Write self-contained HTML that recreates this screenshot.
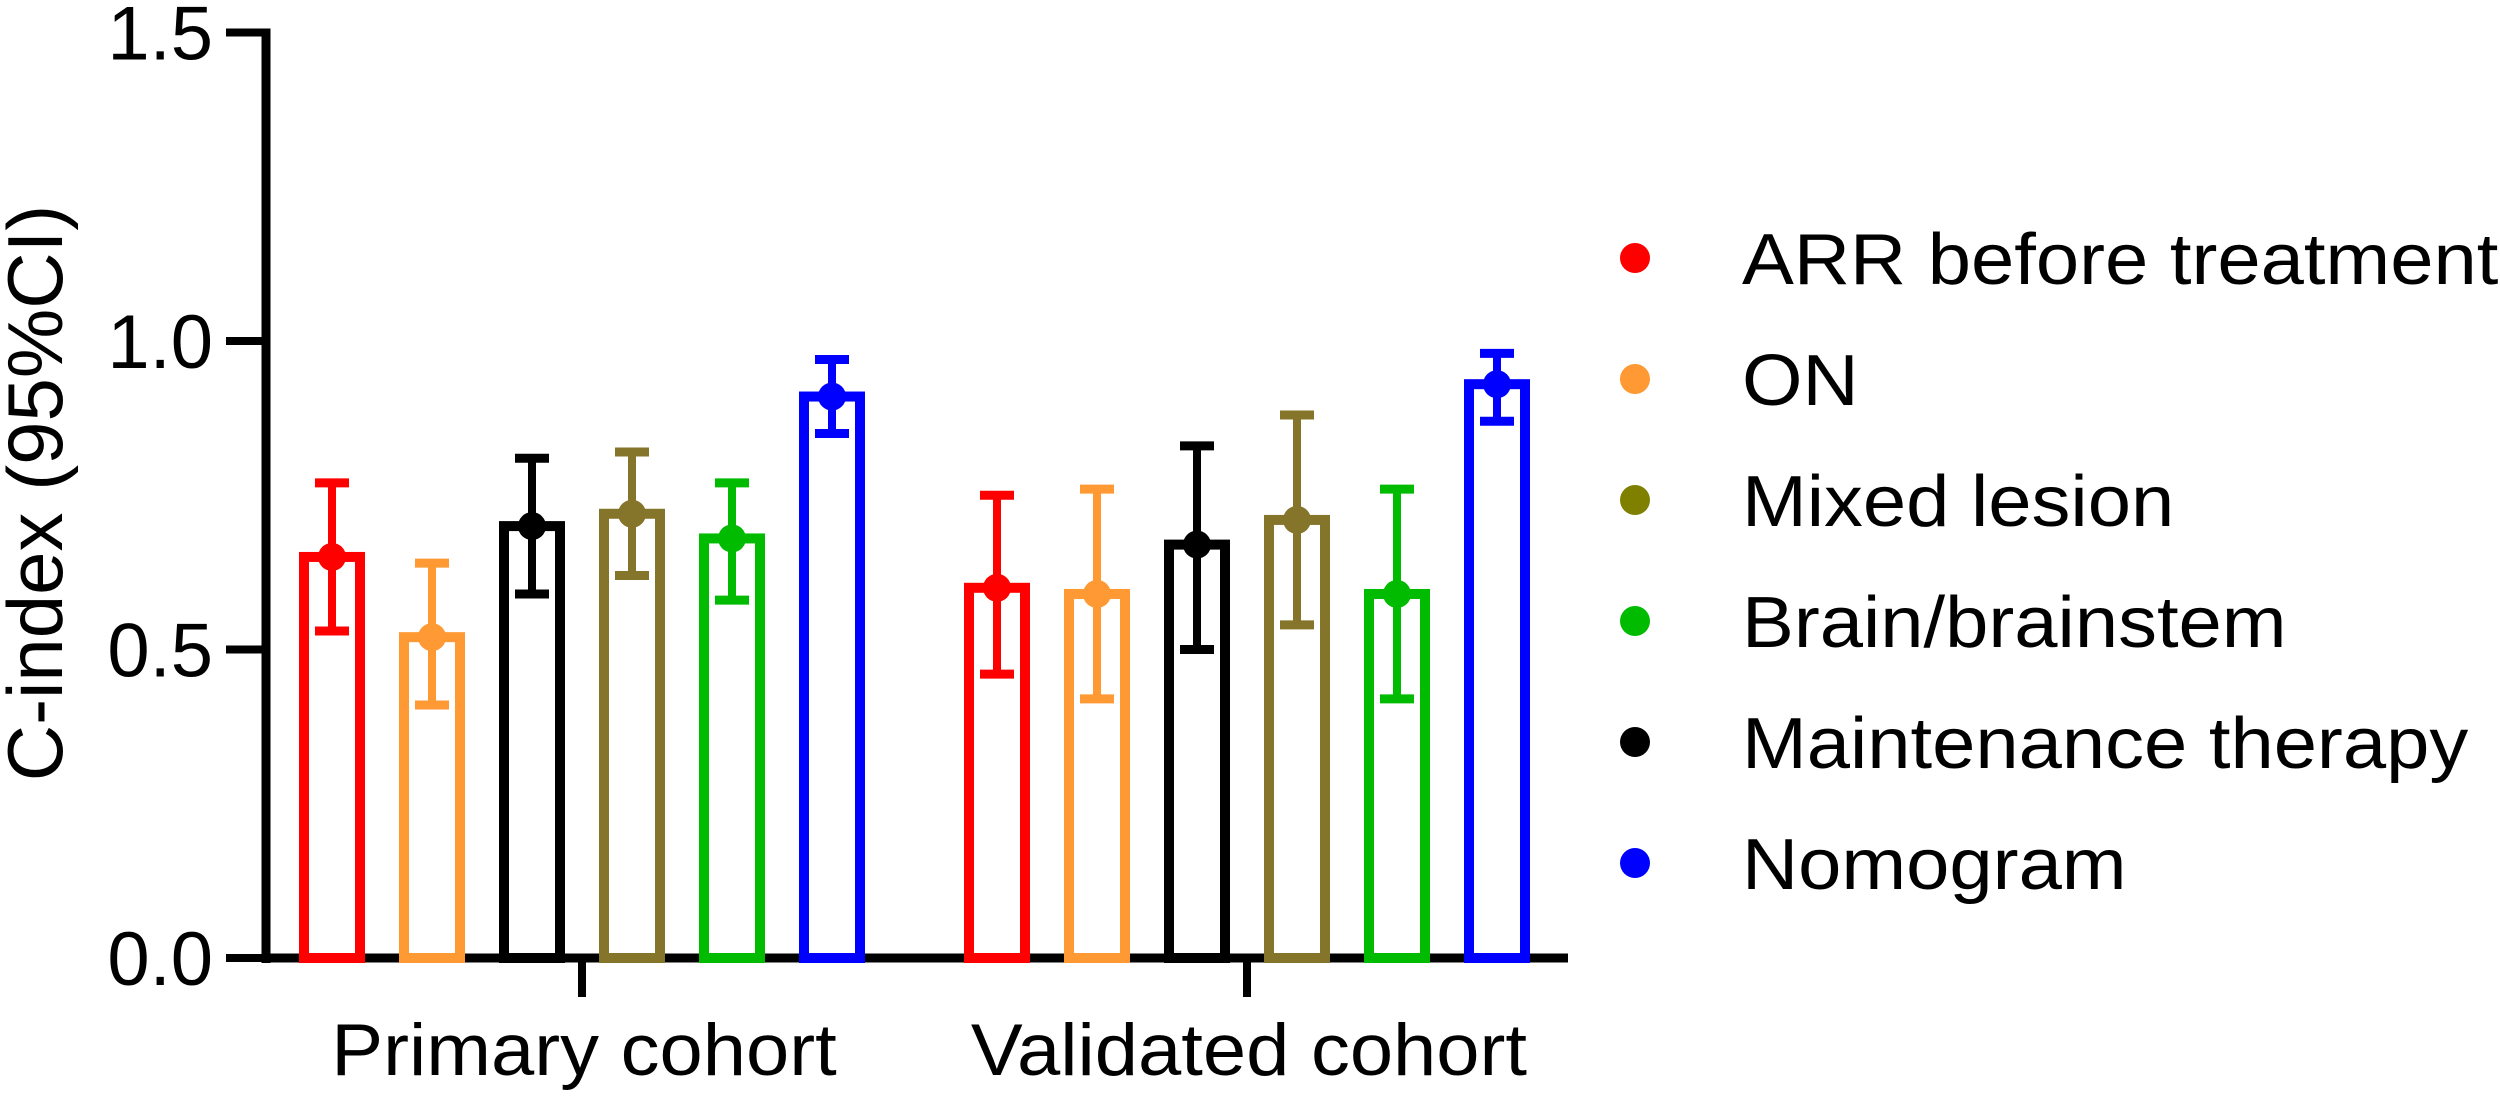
<!DOCTYPE html>
<html><head><meta charset="utf-8"><style>
html,body{margin:0;padding:0;background:#fff;}
svg{display:block;font-family:"Liberation Sans",Arial,sans-serif;}
</style></head><body>
<svg id="chart" width="2500" height="1096" viewBox="0 0 2500 1096" xmlns="http://www.w3.org/2000/svg">
<g id="axes"></g>
<g id="bars"></g>
<g id="legend"></g>
</svg>
<script>
const groups = ["Primary cohort", "Validated cohort"];
const seriesNames = ["ARR before treatment", "ON", "Maintenance therapy", "Mixed lesion", "Brain/brainstem", "Nomogram"];
const seriesColors = ["#ff0000", "#ff9933", "#000000", "#85752b", "#00bb00", "#0000ff"];
const primaryValues = [0.65, 0.52, 0.70, 0.72, 0.68, 0.91];
const primaryLow = [0.53, 0.41, 0.59, 0.62, 0.58, 0.85];
const primaryHigh = [0.77, 0.64, 0.81, 0.82, 0.77, 0.97];
const validatedValues = [0.60, 0.59, 0.67, 0.71, 0.59, 0.93];
const validatedLow = [0.46, 0.42, 0.50, 0.54, 0.42, 0.87];
const validatedHigh = [0.75, 0.76, 0.83, 0.88, 0.76, 0.98];
const yTicks = [0.0, 0.5, 1.0, 1.5];
const yTickLabels = ["0.0", "0.5", "1.0", "1.5"];
const legendOrder = ["ARR before treatment", "ON", "Mixed lesion", "Brain/brainstem", "Maintenance therapy", "Nomogram"];
const legendColors = ["#ff0000", "#ff9933", "#808000", "#00bb00", "#000000", "#0000ff"];

const NS = "http://www.w3.org/2000/svg";
const y0 = 958, yPerUnit = 617;
function yScale(v){ return y0 - v * yPerUnit; }
const groupCenters = [582, 1247];
const barStep = 100;
function xScale(g, i){ return groupCenters[g] + (i - 2.5) * barStep; }
function mk(tag, attrs, parent){
  const e = document.createElementNS(NS, tag);
  for (const k in attrs) e.setAttribute(k, attrs[k]);
  parent.appendChild(e); return e;
}
function widen(t, f){
  const w = t.getComputedTextLength();
  t.setAttribute('textLength', (w * f).toFixed(1));
  t.setAttribute('lengthAdjust', 'spacingAndGlyphs');
}
const axes = document.getElementById('axes');
const bars = document.getElementById('bars');
const legend = document.getElementById('legend');

const yAxis = mk('line', {x1:266, y1:yScale(1.5)-4, x2:266, y2:y0+5, stroke:'#000','stroke-width':9}, axes);


yTicks.forEach((t, i) => {
  const tk = mk('line', {x1:226, y1:yScale(t), x2:266, y2:yScale(t), stroke:'#000','stroke-width':8}, axes);
  
  
  const lb = mk('text', {x:213, y:yScale(t)+27, 'text-anchor':'end','font-size':76}, axes);
  lb.textContent = yTickLabels[i];
  
  
});
const yTitle = mk('text', {x:0, y:0, 'text-anchor':'middle','font-size':78, transform:'translate(62,493) rotate(-90)'}, axes);
yTitle.textContent = "C-index (95%CI)";



const xAxis = mk('line', {x1:262, y1:y0, x2:1568, y2:y0, stroke:'#000','stroke-width':9}, axes);


groups.forEach((g, gi) => {
  const tk = mk('line', {x1:groupCenters[gi], y1:y0, x2:groupCenters[gi], y2:997, stroke:'#000','stroke-width':8}, axes);
  
  
  const lb = mk('text', {x:groupCenters[gi]+2, y:1075, 'text-anchor':'middle','font-size':73}, axes);
  lb.textContent = g;
  
  
  widen(lb, 1.065);
});

const allVals = [primaryValues, validatedValues];
const allLow = [primaryLow, validatedLow];
const allHigh = [primaryHigh, validatedHigh];
groups.forEach((g, gi) => {
  seriesNames.forEach((s, i) => {
    const cx = xScale(gi, i), c = seriesColors[i];
    const v = allVals[gi][i], lo = allLow[gi][i], hi = allHigh[gi][i];
    const r = mk('rect', {x:cx-28, y:yScale(v), width:56, height:y0-yScale(v), fill:'none', stroke:c, 'stroke-width':10}, bars);
    
    
    const el = mk('line', {x1:cx, y1:yScale(hi), x2:cx, y2:yScale(lo), stroke:c, 'stroke-width':8}, bars);
    
    
    const c1 = mk('line', {x1:cx-17, y1:yScale(hi), x2:cx+17, y2:yScale(hi), stroke:c, 'stroke-width':9}, bars);
    
    
    const c2 = mk('line', {x1:cx-17, y1:yScale(lo), x2:cx+17, y2:yScale(lo), stroke:c, 'stroke-width':9}, bars);
    
    
    const pt = mk('circle', {cx:cx, cy:yScale(v), r:14, fill:c}, bars);
    
    
  });
});

legendOrder.forEach((s, i) => {
  const ly = 258 + i * 121;
  const d = mk('circle', {cx:1635, cy:ly, r:15, fill:legendColors[i]}, legend);
  
  
  const t = mk('text', {x:1742, y:ly+26, 'font-size':72}, legend);
  t.textContent = s;
  
  
  widen(t, 1.08);
});
</script>
</body></html>
